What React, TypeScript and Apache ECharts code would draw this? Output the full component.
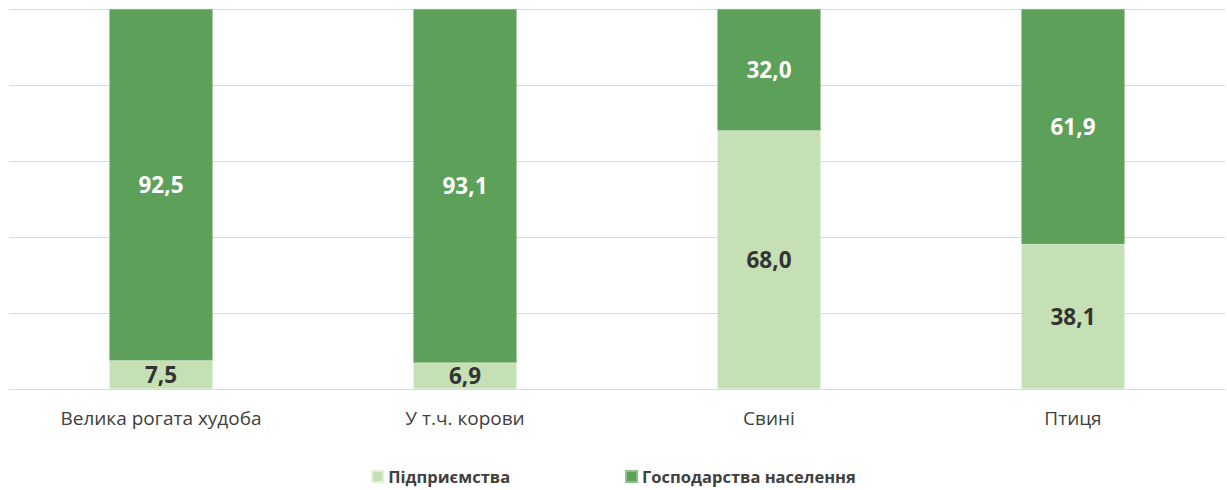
import React, { useEffect, useRef } from "react";
import * as echarts from "echarts";

const categories = ["Велика рогата худоба", "У т.ч. корови", "Свині", "Птиця"];
const enterprises = [7.5, 6.9, 68.0, 38.1];
const households = [92.5, 93.1, 32.0, 61.9];
const seriesNames = ["Підприємства", "Господарства населення"];

const FONT = "'Open Sans', 'Noto Sans', sans-serif";

export default function App() {
  const ref = useRef<HTMLDivElement>(null);
  useEffect(() => {
    if (!ref.current) return;
    const chart = echarts.init(ref.current, undefined, { renderer: "svg" });
    const fmt = (p: any) => Number(p.value).toFixed(1).replace(".", ",");
    chart.setOption({
      animation: false,
      textStyle: { fontFamily: FONT },
      grid: { left: 9, right: 2, top: 9, bottom: 101, containLabel: false },
      legend: {
        bottom: 0,
        left: "center",
        itemWidth: 11,
        itemHeight: 11,
        itemGap: 115,
        icon: "rect",
        textStyle: { fontFamily: FONT, fontSize: 16.5, fontWeight: "bold", color: "#404040" },
        data: seriesNames,
      },
      xAxis: {
        type: "category",
        data: categories,
        axisLine: { show: true, lineStyle: { color: "#D9D9D9", width: 1 } },
        axisTick: { show: false },
        axisLabel: { fontFamily: FONT, fontSize: 19, color: "#404040", margin: 19 },
      },
      yAxis: {
        type: "value",
        min: 0,
        max: 100,
        interval: 20,
        axisLabel: { show: false },
        axisLine: { show: false },
        axisTick: { show: false },
        splitLine: { lineStyle: { color: "#D9D9D9", width: 1 } },
      },
      series: [
        {
          name: seriesNames[0],
          type: "bar",
          stack: "total",
          barWidth: "34%",
          data: enterprises,
          itemStyle: { color: "#C5E0B4", borderColor: "#E2F0D9", borderWidth: 0.5 },
          label: {
            show: true,
            position: "inside",
            formatter: fmt,
            fontFamily: FONT,
            fontSize: 22.5,
            fontWeight: "bold",
            color: "#333333",
          },
        },
        {
          name: seriesNames[1],
          type: "bar",
          stack: "total",
          barWidth: "34%",
          data: households,
          itemStyle: { color: "#5CA05A", borderColor: "#8CBF8A", borderWidth: 0.5 },
          label: {
            show: true,
            position: "inside",
            formatter: fmt,
            fontFamily: FONT,
            fontSize: 22.5,
            fontWeight: "bold",
            color: "#FFFFFF",
          },
        },
      ],
    });
    return () => chart.dispose();
  }, []);
  return <div ref={ref} style={{ width: 1227, height: 490, position: "absolute", left: 0, top: 0 }} />;
}
